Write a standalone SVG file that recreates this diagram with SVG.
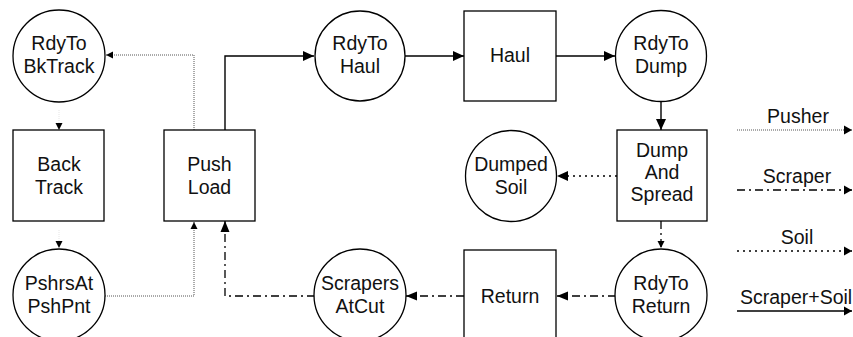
<svg xmlns="http://www.w3.org/2000/svg" width="853" height="337" viewBox="0 0 853 337">
<defs>
<style>
.n{fill:#fff;stroke:#000;stroke-width:1.3}
.t{font-family:"Liberation Sans",Arial,sans-serif;font-size:19.5px;fill:#111;text-anchor:middle}
.solid{fill:none;stroke:#000;stroke-width:1.4}
.push{fill:none;stroke:#555;stroke-width:1;stroke-dasharray:1 1}
.scr{fill:none;stroke:#000;stroke-width:1.3;stroke-dasharray:8 4 2 4}
.soil{fill:none;stroke:#000;stroke-width:1.6;stroke-dasharray:2 4}
</style>
<marker id="aS" markerUnits="userSpaceOnUse" markerWidth="12" markerHeight="12" refX="11" refY="6" orient="auto"><path d="M0,1 L11,6 L0,11 z" fill="#000"/></marker>
<marker id="aP" markerUnits="userSpaceOnUse" markerWidth="8" markerHeight="8" refX="7" refY="4" orient="auto"><path d="M0,0.5 L7,4 L0,7.5 z" fill="#000"/></marker>
<marker id="aC" markerUnits="userSpaceOnUse" markerWidth="12" markerHeight="12" refX="11" refY="6" orient="auto"><path d="M0,1.5 L11,6 L0,10.5 z" fill="#000"/></marker>
<marker id="aL" markerUnits="userSpaceOnUse" markerWidth="10" markerHeight="12" refX="8" refY="6" orient="auto"><path d="M0,1.5 L8,6 L0,10.5 z" fill="#000"/></marker>
</defs>
<rect width="853" height="337" fill="#fff"/>
<g id="connectors">
<path class="push" d="M105,296 H194 V222" marker-end="url(#aP)"/>
<path class="push" d="M194,130 V55 H106" marker-end="url(#aP)"/>
<path class="push" d="M59,110 V130" stroke-opacity="0.15" marker-end="url(#aP)"/>
<path class="push" d="M59,230 V248" stroke-opacity="0.15" marker-end="url(#aP)"/>
<path class="solid" d="M225,130 V56 H314" marker-end="url(#aS)"/>
<path class="solid" d="M405,56 H464" marker-end="url(#aS)"/>
<path class="solid" d="M556,56 H615" marker-end="url(#aS)"/>
<path class="solid" d="M661,101 V130" marker-end="url(#aS)"/>
<path class="soil" d="M617,176 H557" marker-end="url(#aS)"/>
<path class="scr" d="M661,221 V248" marker-end="url(#aP)"/>
<path class="scr" d="M616,296 H557" marker-end="url(#aC)"/>
<path class="scr" d="M464,296 H406" marker-end="url(#aC)"/>
<path class="scr" d="M315,296 H225 V221" marker-end="url(#aC)"/>
</g>
<g id="RdyToBkTrack"><circle class="n" cx="59" cy="56" r="46"/><text class="t" x="59" y="50">RdyTo</text><text class="t" x="59" y="73">BkTrack</text></g>
<g id="BackTrack"><rect class="n" x="13" y="130" width="91" height="91"/><text class="t" x="59" y="171">Back</text><text class="t" x="59" y="194">Track</text></g>
<g id="PshrsAtPshPnt"><circle class="n" cx="59" cy="295" r="46"/><text class="t" x="59" y="290">PshrsAt</text><text class="t" x="59" y="313">PshPnt</text></g>
<g id="PushLoad"><rect class="n" x="164" y="130" width="91" height="91"/><text class="t" x="209.5" y="171">Push</text><text class="t" x="209.5" y="194">Load</text></g>
<g id="RdyToHaul"><circle class="n" cx="360" cy="56" r="45"/><text class="t" x="360" y="50">RdyTo</text><text class="t" x="360" y="73">Haul</text></g>
<g id="Haul"><rect class="n" x="464" y="11" width="92" height="90"/><text class="t" x="510" y="62">Haul</text></g>
<g id="RdyToDump"><circle class="n" cx="661" cy="56" r="45.5"/><text class="t" x="661" y="50">RdyTo</text><text class="t" x="661" y="73">Dump</text></g>
<g id="DumpedSoil"><circle class="n" cx="511" cy="176" r="45.5"/><text class="t" x="511" y="171">Dumped</text><text class="t" x="511" y="194">Soil</text></g>
<g id="DumpAndSpread"><rect class="n" x="617" y="130" width="90" height="91"/><text class="t" x="662" y="157">Dump</text><text class="t" x="662" y="179">And</text><text class="t" x="662" y="201">Spread</text></g>
<g id="RdyToReturn"><circle class="n" cx="661" cy="295" r="46"/><text class="t" x="661" y="290">RdyTo</text><text class="t" x="661" y="313">Return</text></g>
<g id="Return"><rect class="n" x="464" y="250" width="92" height="91"/><text class="t" x="510" y="303">Return</text></g>
<g id="ScrapersAtCut"><circle class="n" cx="360" cy="295" r="46"/><text class="t" x="360" y="290">Scrapers</text><text class="t" x="360" y="313">AtCut</text></g>
<g id="legend">
<text class="t" x="798" y="123">Pusher</text>
<path class="push" d="M737,130 H852" marker-end="url(#aL)"/>
<text class="t" x="797" y="183">Scraper</text>
<path class="scr" d="M737,190 H852" marker-end="url(#aL)"/>
<text class="t" x="797" y="244">Soil</text>
<path class="soil" d="M737,251 H852" marker-end="url(#aL)"/>
<text class="t" x="740" y="304" style="text-anchor:start">Scraper+Soil</text>
<path class="solid" d="M737,311 H852" marker-end="url(#aL)"/>
</g>
</svg>
